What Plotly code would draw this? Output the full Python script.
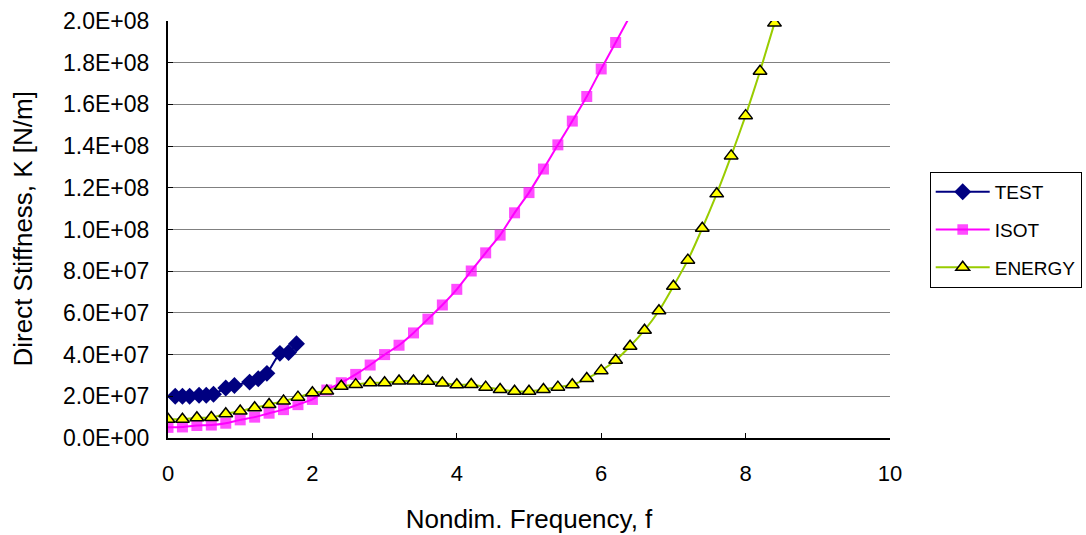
import plotly.graph_objects as go

# ---------------- data ----------------
test_f = [0.1, 0.2, 0.3, 0.43, 0.53, 0.63, 0.8, 0.92, 1.13, 1.25, 1.37, 1.55, 1.67, 1.78]
test_k = [2.0e7, 2.0e7, 2.0e7, 2.05e7, 2.05e7, 2.1e7, 2.4e7, 2.52e7, 2.68e7, 2.84e7, 3.1e7,
          4.06e7, 4.1e7, 4.52e7]

isot_f = [0.0, 0.2, 0.4, 0.6, 0.8, 1.0, 1.2, 1.4, 1.6, 1.8, 2.0, 2.2, 2.4, 2.6, 2.8, 3.0,
          3.2, 3.4, 3.6, 3.8, 4.0, 4.2, 4.4, 4.6, 4.8, 5.0, 5.2, 5.4, 5.6, 5.8, 6.0, 6.2, 6.4]
isot_k = [5.1e6, 5.3e6, 6.0e6, 6.2e6, 7.1e6, 8.7e6, 1.0e7, 1.19e7, 1.36e7, 1.6e7, 1.85e7,
          2.3e7, 2.65e7, 3.05e7, 3.5e7, 4.0e7, 4.45e7, 5.04e7, 5.7e7, 6.38e7, 7.13e7, 8.01e7,
          8.88e7, 9.73e7, 1.08e8, 1.177e8, 1.29e8, 1.406e8, 1.52e8, 1.638e8, 1.77e8, 1.897e8,
          2.025e8]

energy_f = [0.0, 0.2, 0.4, 0.6, 0.8, 1.0, 1.2, 1.4, 1.6, 1.8, 2.0, 2.2, 2.4, 2.6, 2.8, 3.0,
            3.2, 3.4, 3.6, 3.8, 4.0, 4.2, 4.4, 4.6, 4.8, 5.0, 5.2, 5.4, 5.6, 5.8, 6.0, 6.2,
            6.4, 6.6, 6.8, 7.0, 7.2, 7.4, 7.6, 7.8, 8.0, 8.2, 8.4]
energy_k = [9.0e6, 9.0e6, 9.7e6, 9.8e6, 1.16e7, 1.29e7, 1.45e7, 1.61e7, 1.77e7, 1.96e7,
            2.17e7, 2.25e7, 2.48e7, 2.56e7, 2.65e7, 2.65e7, 2.73e7, 2.73e7, 2.72e7, 2.64e7,
            2.55e7, 2.57e7, 2.44e7, 2.33e7, 2.24e7, 2.24e7, 2.33e7, 2.44e7, 2.55e7, 2.85e7,
            3.23e7, 3.73e7, 4.4e7, 5.17e7, 6.1e7, 7.28e7, 8.53e7, 1.006e8, 1.171e8, 1.353e8,
            1.546e8, 1.759e8, 1.99e8]

y_tick_vals = [0, 2e7, 4e7, 6e7, 8e7, 1e8, 1.2e8, 1.4e8, 1.6e8, 1.8e8, 2e8]
y_tick_text = ["0.0E+00", "2.0E+07", "4.0E+07", "6.0E+07", "8.0E+07", "1.0E+08",
               "1.2E+08", "1.4E+08", "1.6E+08", "1.8E+08", "2.0E+08"]
x_tick_vals = [0, 2, 4, 6, 8, 10]

x_title = "Nondim. Frequency, f"
y_title = "Direct Stiffness, K [N/m]"

# ---------------- styling ----------------
FONT = "Liberation Sans, Arial, sans-serif"
Y_MAX = 2e8
X_MAX = 10

fig = go.Figure()

fig.add_trace(go.Scatter(
    x=test_f, y=test_k, name="TEST", mode="lines+markers", legendgroup="g1",
    line=dict(color="#000080", width=2, shape="spline", smoothing=0.5),
    marker=dict(symbol="diamond", size=13, color="#000080",
                line=dict(color="#000080", width=0)),
))

fig.add_trace(go.Scatter(
    x=isot_f, y=isot_k, name="ISOT", mode="lines+markers", legendgroup="g2",
    line=dict(color="#FF00FF", width=2, shape="spline", smoothing=0.5),
    marker=dict(symbol="square", size=[11 if k <= Y_MAX else 0 for k in isot_k],
                color="#FF00FF", line=dict(width=0)),
))

fig.add_trace(go.Scatter(
    x=energy_f, y=energy_k, name="ENERGY", mode="lines+markers", legendgroup="g3",
    line=dict(color="#99CC00", width=2, shape="spline", smoothing=0.5),
    marker=dict(symbol="triangle-up", size=12, color="#FFFF00",
                line=dict(color="#000000", width=1.5)),
))

fig.update_layout(
    width=1086, height=535,
    margin=dict(l=168, r=196, t=21, b=97, autoexpand=False),
    paper_bgcolor="white", plot_bgcolor="white",
    font=dict(family=FONT, color="#000000", size=20),
    showlegend=True,
    legend=dict(
        x=1.055, y=0.638, xanchor="left", yanchor="top",
        bordercolor="#000000", borderwidth=1,
        font=dict(family=FONT, size=19, color="#000000"),
        tracegroupgap=10, bgcolor="white", itemwidth=54,
    ),
    xaxis=dict(
        range=[0, X_MAX], tickvals=x_tick_vals, ticktext=[str(v) for v in x_tick_vals],
        ticks="inside", ticklen=5, tickwidth=1, tickcolor="#000000",
        showline=True, linecolor="#000000", linewidth=2,
        showgrid=False, zeroline=False, automargin=False,
        tickfont=dict(family=FONT, size=22),
        ticklabelstandoff=15,
        title=dict(text=x_title, font=dict(family=FONT, size=26), standoff=24),
    ),
    yaxis=dict(
        range=[0, Y_MAX], tickvals=y_tick_vals, ticktext=y_tick_text,
        ticks="inside", ticklen=5, tickwidth=1, tickcolor="#000000",
        showline=True, linecolor="#000000", linewidth=2,
        showgrid=True, gridcolor="#808080", gridwidth=1,
        zeroline=False, automargin=False,
        tickfont=dict(family=FONT, size=23),
        ticklabelstandoff=12,
    ),
    annotations=[dict(
        text=y_title, textangle=-90, showarrow=False,
        xref="paper", yref="paper", x=-0.2022, y=0.5,
        xanchor="center", yanchor="middle",
        font=dict(family=FONT, size=26, color="#000000"),
    )],
)

fig.write_html("out.html", config={"displayModeBar": False},
               post_script="document.body.style.margin='0';")
